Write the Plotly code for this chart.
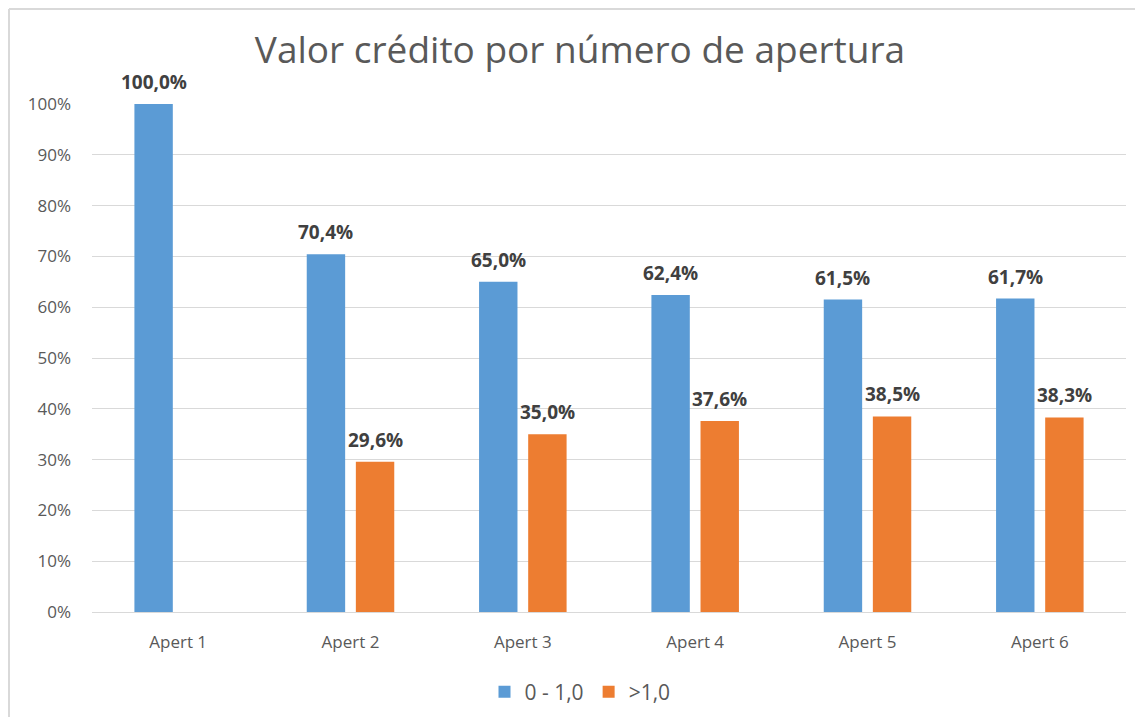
import plotly.graph_objects as go

categories = ["Apert 1", "Apert 2", "Apert 3", "Apert 4", "Apert 5", "Apert 6"]
series_names = ["0 - 1,0", ">1,0"]
values_low = [100.0, 70.4, 65.0, 62.4, 61.5, 61.7]
values_high = [None, 29.6, 35.0, 37.6, 38.5, 38.3]
y_ticks = [0, 10, 20, 30, 40, 50, 60, 70, 80, 90, 100]

colors = ["#5B9BD5", "#ED7D31"]
OFF = 8  # default page body margin
W, H = 1143 - 2 * OFF, 725 - 2 * OFF
ML, MT = 92 - OFF, 104 - OFF
MR, MB = W - (1126 - OFF), H - (612 - OFF)
BARGAP = 0.43
BARGROUPGAP = 0.218

xs = list(range(len(categories)))
fig = go.Figure()
for name, vals, col in zip(series_names, [values_low, values_high], colors):
    fig.add_trace(go.Bar(x=xs, y=vals, name=name, marker=dict(color=col, line=dict(width=0)),
                         cliponaxis=False))

def fmt(v):
    return f"{v:.1f}".replace(".", ",") + "%"

slot = (1 - BARGAP) / 2
offsets = [-slot / 2, slot / 2]
annotations = []
for off, vals in zip(offsets, [values_low, values_high]):
    for i, v in enumerate(vals):
        if v is None:
            continue
        annotations.append(dict(x=i + off, y=v, xref="x", yref="y", text=fmt(v),
                                showarrow=False, yanchor="bottom", yshift=7,
                                font=dict(family="Open Sans", size=19, color="#404040", weight="bold")))

plot_w = W - ML - MR
plot_h = H - MT - MB

def px(xp):  # page x -> paper
    return (xp - OFF - ML) / plot_w

def py(yp):  # page y -> paper
    return (H - MB - (yp - OFF)) / plot_h

border = dict(color="#D9D9D9", width=2)
shapes = [
    dict(type="line", xref="paper", yref="paper", x0=px(9), x1=px(9), y0=py(OFF + H), y1=py(9), line=border),
    dict(type="line", xref="paper", yref="paper", x0=px(9), x1=px(OFF + W), y0=py(9), y1=py(9), line=border),
]

fig.update_layout(
    width=W, height=H,
    margin=dict(l=ML, r=MR, t=MT, b=MB, autoexpand=False),
    paper_bgcolor="white", plot_bgcolor="white",
    barmode="group", bargap=BARGAP, bargroupgap=BARGROUPGAP,
    title=dict(text="Valor crédito por número de apertura", x=px(580), xref="paper", xanchor="center",
               y=1 - (50 - OFF) / H, yanchor="middle",
               font=dict(family="Open Sans", size=37, color="#595959")),
    font=dict(family="Open Sans", color="#595959"),
    xaxis=dict(tickmode="array", tickvals=xs, ticktext=categories, range=[-0.5, len(categories) - 0.5],
               showgrid=False, showline=True, linecolor="#D9D9D9", linewidth=1,
               ticks="", tickfont=dict(size=17, color="#595959"), ticklabelstandoff=15, zeroline=False),
    yaxis=dict(range=[0, 100], tickmode="array", tickvals=y_ticks, ticktext=[f"{t}%" for t in y_ticks],
               showgrid=True, gridcolor="#D9D9D9", gridwidth=1, zeroline=False, showline=False,
               ticks="", tickfont=dict(size=17, color="#595959"), ticklabelstandoff=20),
    legend=dict(orientation="h", x=px(580), xanchor="center", y=py(692),
                yanchor="middle", font=dict(size=21, color="#595959"), traceorder="normal"),
    annotations=annotations,
    shapes=shapes,
)
fig.write_html("out.html")
